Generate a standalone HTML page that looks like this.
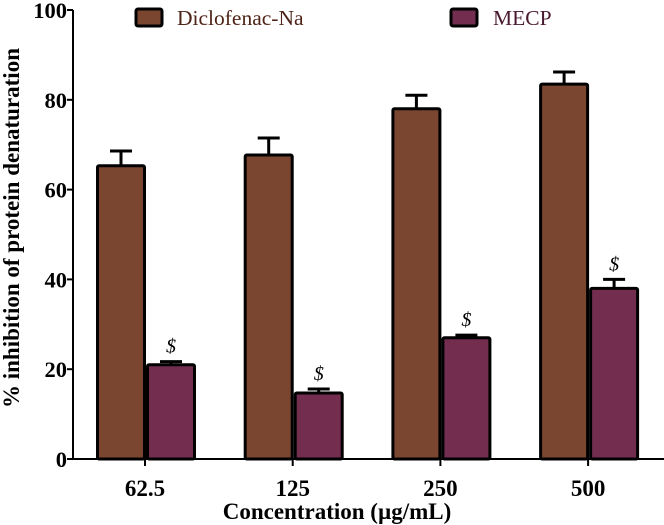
<!DOCTYPE html>
<html><head><meta charset="utf-8"><style>
html,body{margin:0;padding:0;background:#fff;}
svg{display:block;font-family:"Liberation Serif",serif;}
</style></head><body>
<svg id="chart" width="664" height="525" viewBox="0 0 664 525" xmlns="http://www.w3.org/2000/svg">
<g id="axes"></g>
<g id="bars"></g>
<g>
  <rect x="136" y="9" width="26" height="17" rx="2" fill="#7b4630" stroke="#000" stroke-width="3"/>
  <text x="177" y="25" font-size="21.5" fill="#4e2418">Diclofenac-Na</text>
  <rect x="451" y="9" width="26" height="17" rx="2" fill="#722d4f" stroke="#000" stroke-width="3"/>
  <text x="493" y="25" font-size="21.5" fill="#4a1a30">MECP</text>
</g>
<text transform="translate(19,228) rotate(-90)" text-anchor="middle" font-size="23" font-weight="bold" textLength="360" lengthAdjust="spacingAndGlyphs">% inhibition of protein denaturation</text>
<text x="337" y="519" text-anchor="middle" font-size="23" font-weight="bold">Concentration (µg/mL)</text>
</svg>
<script>
const categories = ["62.5","125","250","500"];
const diclofenac = [65.3, 67.7, 78.0, 83.5];
const diclofenacErr = [3.3, 3.8, 3.0, 2.7];
const mecp = [21.0, 14.7, 27.0, 38.0];
const mecpErr = [0.7, 0.9, 0.6, 2.0];
const mecpMarks = ["$","$","$","$"];
const yTicks = [0,20,40,60,80,100];

const NS="http://www.w3.org/2000/svg";
const y0=459, pxPerUnit=4.49;
function yScale(v){return y0 - v*pxPerUnit;}
function xScale(i){return 145 + i*147.7;}
function mk(tag,attrs,parent){const e=document.createElementNS(NS,tag);for(const k in attrs)e.setAttribute(k,attrs[k]);parent.appendChild(e);return e;}
const axes=document.getElementById('axes'), bars=document.getElementById('bars');

let l=mk('line',{x1:73,y1:yScale(100),x2:73,y2:y0,stroke:'#000','stroke-width':2},axes);


l=mk('line',{x1:72,y1:y0,x2:664,y2:y0,stroke:'#000','stroke-width':2},axes);


yTicks.forEach(v=>{
  const t=mk('line',{x1:67,y1:yScale(v),x2:73,y2:yScale(v),stroke:'#000','stroke-width':2},axes);
  
  
  const tx=mk('text',{x:67,y:yScale(v)+8,'text-anchor':'end','font-size':22.5,'font-weight':'bold'},axes);
  tx.textContent=v;
  
  
});
categories.forEach((c,i)=>{
  const x=xScale(i);
  const t=mk('line',{x1:x,y1:y0,x2:x,y2:y0+7,stroke:'#000','stroke-width':2},axes);
  
  
  const tx=mk('text',{x:x,y:y0+37,'text-anchor':'middle','font-size':23,'font-weight':'bold'},axes);
  tx.textContent=c;
  
  

  function bar(left,val,err,fill,name){
    const top=yScale(val), cx=left+23.5;
    const e=mk('line',{x1:cx,y1:top,x2:cx,y2:yScale(val+err),stroke:'#000','stroke-width':3},bars);
    
    
    const cap=mk('line',{x1:cx-11,y1:yScale(val+err),x2:cx+11,y2:yScale(val+err),stroke:'#000','stroke-width':3},bars);
    
    
    const r=mk('rect',{x:left,y:top,width:47,height:y0-top,fill:fill,stroke:'#000','stroke-width':3,rx:1.5},bars);
    
    
  }
  bar(x-47.5,diclofenac[i],diclofenacErr[i],'#7b4630','diclofenac');
  bar(x+2.5,mecp[i],mecpErr[i],'#722d4f','mecp');
  const s=mk('text',{x:x+26,y:yScale(mecp[i]+mecpErr[i])-9,'text-anchor':'middle','font-size':20,'font-style':'italic'},bars);
  s.textContent=mecpMarks[i];
  
  
});
</script>
</body></html>
